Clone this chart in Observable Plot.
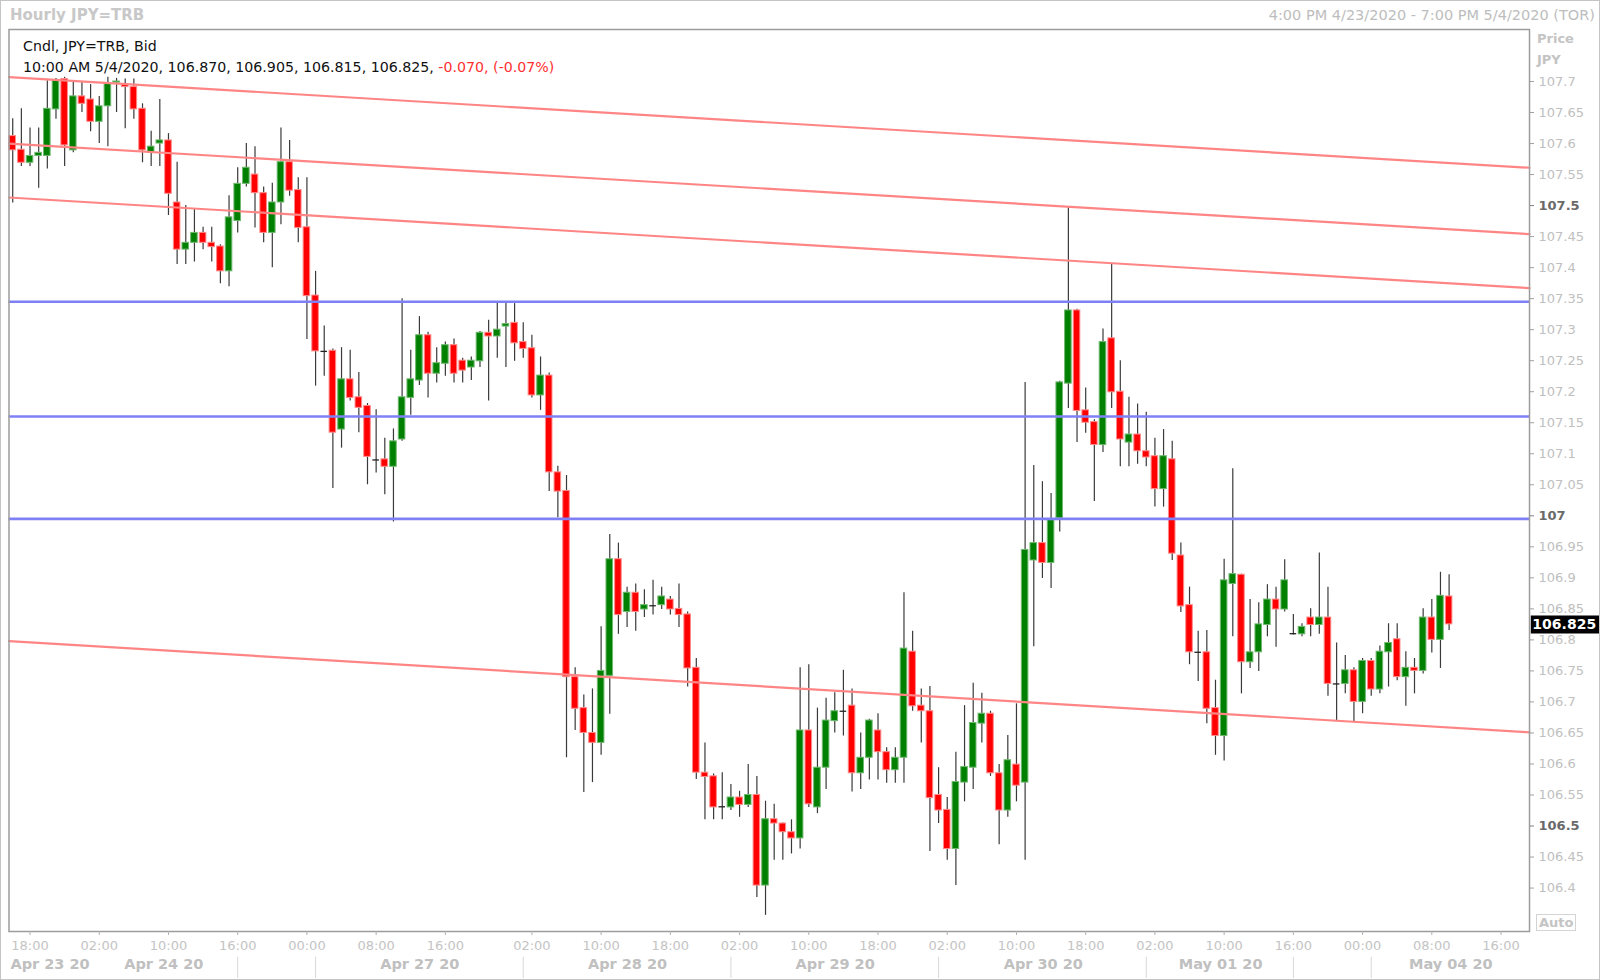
<!DOCTYPE html>
<html><head><meta charset="utf-8">
<script src="https://cdn.jsdelivr.net/npm/d3@7"></script>
<script src="https://cdn.jsdelivr.net/npm/@observablehq/plot@0.6"></script>
<style>
html,body{margin:0;padding:0;background:#fff;}
#wrap{position:relative;width:1600px;height:980px;overflow:hidden;font-family:"DejaVu Sans",Verdana,sans-serif;}
#chart{position:absolute;left:0;top:0;}
#border{position:absolute;left:0;top:0;width:1600px;height:980px;box-sizing:border-box;border:1px solid #c4c4c4;pointer-events:none;}
.t{position:absolute;white-space:nowrap;line-height:1;}
</style></head><body>
<div id="wrap">
  <div id="chart"></div>
  <div class="t" style="left:10px;top:8px;font-size:15px;font-weight:bold;color:#c8c8c8">Hourly JPY=TRB</div>
  <div class="t" style="right:5px;top:8px;font-size:14.5px;color:#bdbdbd">4:00 PM 4/23/2020 - 7:00 PM 5/4/2020 (TOR)</div>
  <div class="t" style="left:1537px;top:32px;font-size:13px;font-weight:bold;color:#c4c4c4">Price</div>
  <div class="t" style="left:1537px;top:53px;font-size:13px;font-weight:bold;color:#c4c4c4">JPY</div>
  <div class="t" id="leg1" style="left:23px;top:39px;font-size:14.2px;color:#111"></div>
  <div class="t" id="leg2" style="left:23px;top:60px;font-size:14.2px;color:#111"></div>
  <div class="t" style="left:1536px;top:914px;border:1px solid #d4d4d4;padding:1px 2px;font-size:13px;font-weight:bold;color:#c4c4c4">Auto</div>
  <div id="border"></div>
</div>
<script>
// ---- data: hourly candles (index = hour slot from 4:00 PM 4/23/2020) ----
const open = [
107.612,107.590,107.569,107.580,107.580,107.655,107.704,107.589,107.676,107.671,
107.635,107.660,107.698,107.696,107.691,107.656,107.585,107.600,107.605,107.505,
107.429,107.440,107.456,107.440,107.434,107.394,107.475,107.535,107.550,107.520,
107.456,107.505,107.570,107.525,107.465,107.355,107.265,107.266,107.139,107.220,
107.191,107.177,107.090,107.091,107.079,107.123,107.190,107.218,107.291,107.229,
107.245,107.275,107.250,107.239,107.249,107.295,107.289,107.305,107.311,107.280,
107.270,107.194,107.226,107.070,107.040,106.740,106.690,106.650,106.634,106.742,
106.930,106.845,106.876,106.849,106.855,106.856,106.865,106.850,106.841,106.755,
106.586,106.580,106.531,106.530,106.546,106.534,106.550,106.404,106.511,106.504,
106.490,106.480,106.654,106.530,106.594,106.669,106.685,106.694,106.585,106.610,
106.654,106.619,106.590,106.610,106.781,106.694,106.685,106.550,106.526,106.463,
106.570,106.594,106.665,106.681,106.585,106.525,106.599,106.570,106.928,106.956,
106.924,106.996,107.213,107.331,107.170,107.151,107.114,107.286,107.200,107.118,
107.131,107.104,107.096,107.043,107.091,106.936,106.856,106.780,106.780,106.690,
106.645,106.890,106.905,106.764,106.780,106.824,106.865,106.849,106.810,106.809,
106.836,106.824,106.836,106.729,106.729,106.751,106.700,106.766,106.720,106.780,
106.801,106.740,106.755,106.750,106.836,106.800,106.870];
const high = [
107.640,107.656,107.625,107.625,107.701,107.705,107.707,107.699,107.699,107.695,
107.676,107.707,107.705,107.704,107.704,107.664,107.620,107.671,107.616,107.570,
107.500,107.494,107.465,107.465,107.437,107.516,107.561,107.600,107.595,107.530,
107.536,107.625,107.605,107.545,107.545,107.394,107.306,107.269,107.271,107.267,
107.231,107.181,107.171,107.125,107.140,107.350,107.267,107.321,107.296,107.271,
107.280,107.285,107.254,107.256,107.297,107.315,107.342,107.342,107.342,107.311,
107.291,107.256,107.230,107.080,107.065,106.755,106.711,106.721,106.821,106.970,
106.956,106.885,106.890,106.881,106.896,106.885,106.870,106.890,106.845,106.770,
106.634,106.584,106.586,106.567,106.556,106.599,106.580,106.540,106.535,106.505,
106.510,106.755,106.760,106.690,106.706,106.715,106.751,106.721,106.650,106.672,
106.681,106.626,106.626,106.876,106.814,106.721,106.725,106.594,106.546,106.619,
106.694,106.730,106.714,106.685,106.599,106.646,106.697,107.215,107.081,107.055,
107.036,107.217,107.497,107.333,107.206,107.155,107.301,107.405,107.250,107.191,
107.180,107.167,107.125,107.139,107.120,106.956,106.885,106.814,106.815,106.735,
106.930,107.076,106.906,106.865,106.860,106.889,106.885,106.929,106.841,106.826,
106.850,106.940,106.885,106.795,106.775,106.755,106.770,106.770,106.790,106.826,
106.826,106.781,106.770,106.850,106.865,106.909,106.905];
const low = [
107.504,107.563,107.563,107.528,107.559,107.639,107.563,107.585,107.650,107.619,
107.600,107.595,107.650,107.624,107.639,107.569,107.563,107.563,107.484,107.405,
107.405,107.409,107.429,107.409,107.374,107.369,107.456,107.530,107.464,107.440,
107.400,107.469,107.515,107.440,107.284,107.209,107.225,107.044,107.109,107.185,
107.134,107.050,107.069,107.034,106.990,107.120,107.162,107.210,107.190,107.214,
107.225,107.214,107.214,107.218,107.239,107.185,107.254,107.239,107.249,107.254,
107.190,107.170,107.039,106.997,106.610,106.654,106.554,106.570,106.614,106.680,
106.809,106.820,106.814,106.836,106.840,106.849,106.840,106.820,106.724,106.575,
106.510,106.510,106.510,106.525,106.514,106.530,106.385,106.356,106.445,106.445,
106.455,106.463,106.530,106.520,106.559,106.650,106.645,106.555,106.559,106.574,
106.574,106.569,106.569,106.569,106.685,106.634,106.459,106.504,106.445,106.404,
106.539,106.559,106.634,106.580,106.470,106.514,106.539,106.445,106.789,106.899,
106.883,106.974,107.173,107.118,107.133,107.023,107.102,107.173,107.079,107.079,
107.083,107.079,107.014,107.014,106.928,106.844,106.760,106.733,106.665,106.614,
106.605,106.805,106.713,106.754,106.749,106.805,106.788,106.845,106.808,106.805,
106.805,106.809,106.709,106.670,106.713,106.668,106.681,106.709,106.713,106.724,
106.734,106.693,106.713,106.745,106.779,106.754,106.815];
const close = [
107.589,107.569,107.580,107.585,107.656,107.701,107.597,107.676,107.664,107.635,
107.660,107.696,107.700,107.691,107.655,107.589,107.595,107.605,107.519,107.429,
107.440,107.456,107.440,107.433,107.394,107.481,107.535,107.561,107.520,107.456,
107.505,107.570,107.524,107.464,107.354,107.265,107.265,107.134,107.220,107.190,
107.174,107.095,107.090,107.079,107.120,107.191,107.220,107.291,107.229,107.246,
107.275,107.229,107.234,107.250,107.295,107.289,107.300,107.309,107.278,107.269,
107.194,107.226,107.070,107.039,106.740,106.689,106.650,106.634,106.750,106.930,
106.840,106.876,106.845,106.856,106.855,106.870,106.849,106.840,106.754,106.586,
106.579,106.530,106.531,106.546,106.534,106.550,106.404,106.511,106.504,106.490,
106.480,106.654,106.535,106.594,106.670,106.685,106.685,106.585,106.610,106.670,
106.619,106.590,106.610,106.786,106.693,106.685,106.545,106.525,106.463,106.571,
106.595,106.666,106.681,106.585,106.525,106.606,106.565,106.945,106.956,106.924,
106.993,107.215,107.331,107.169,107.150,107.114,107.280,107.199,107.123,107.131,
107.104,107.094,107.043,107.096,106.939,106.854,106.780,106.780,106.689,106.645,
106.896,106.906,106.764,106.780,106.825,106.865,106.849,106.896,106.810,106.821,
106.824,106.836,106.729,106.729,106.751,106.700,106.766,106.720,106.781,106.795,
106.740,106.755,106.750,106.836,106.800,106.871,106.825];

// horizontal support / resistance levels
const levels = [107.345, 107.16, 106.995];
// parallel channel lines: value at left edge and right edge of the chart
const channelStart = [107.707, 107.600, 107.513, 106.798];
const channelEnd   = [107.561, 107.454, 107.367, 106.651];

// axis ticks
const timeTickIdx = [2,10,18,26,34,42,50,60,68,76,84,92,100,108,116,124,132,140,148,156,164,172];
const timeTickLabels = ["18:00","02:00","10:00","16:00","00:00","08:00","16:00","02:00","10:00","18:00","02:00","10:00","18:00","02:00","10:00","18:00","02:00","10:00","16:00","00:00","08:00","16:00"];
const dateTickIdx = [4.31,17.46,47.05,71.05,95.05,119.1,139.6,166.2];
const dateTickLabels = ["Apr 23 20","Apr 24 20","Apr 27 20","Apr 28 20","Apr 29 20","Apr 30 20","May 01 20","May 04 20"];
const daySeparatorIdx = [26,35,59,83,107,131,148,157];
const yTicks = [106.4,106.45,106.5,106.55,106.6,106.65,106.7,106.75,106.8,106.85,106.9,106.95,107,107.05,107.1,107.15,107.2,107.25,107.3,107.35,107.4,107.45,107.5,107.55,107.6,107.65,107.7];
const yBoldTicks = [106.5, 107, 107.5];

const legendTitle = "Cndl, JPY=TRB, Bid";
const lastTime = "10:00 AM 5/4/2020";
const lastChange = "-0.070, (-0.07%)";

// ---- build ----
const X0 = -0.43, X1 = 175.29;
const candles = open.map((o, i) => ({i, open: o, high: high[i], low: low[i], close: close[i]}));
const bodies = candles.filter(d => d.open !== d.close);
const dojis = candles.filter(d => d.open === d.close);
const channel = [];
channelStart.forEach((v, k) => { channel.push({k, x: X0, y: v}); channel.push({k, x: X1, y: channelEnd[k]}); });
const fmtY = d => String(+d.toFixed(2));
const timeMap = new Map(timeTickIdx.map((d, i) => [d, timeTickLabels[i]]));
const dateMap = new Map(dateTickIdx.map((d, i) => [d, dateTickLabels[i]]));
const lastClose = close[close.length - 1];
const hw = 0.38;

const chart = Plot.plot({
  width: 1600, height: 980,
  marginTop: 29, marginBottom: 49, marginLeft: 8.5, marginRight: 71,
  x: {domain: [X0, X1]},
  y: {domain: [106.33, 107.7838]},
  style: {fontFamily: "DejaVu Sans, Verdana, sans-serif", fontSize: "13px", background: "transparent", overflow: "visible"},
  marks: [
    Plot.ruleX(candles, {x: "i", y1: "low", y2: "high", stroke: "#3a3a3a", strokeWidth: 1.2}),
    Plot.rect(bodies, {x1: d => d.i - hw, x2: d => d.i + hw, y1: "open", y2: "close",
      fill: d => d.close > d.open ? "#008000" : "#ff0000",
      stroke: d => d.close > d.open ? "#6fb86f" : "#ff8a8a", strokeWidth: 1}),
    Plot.ruleY(dojis, {y: "open", x1: d => d.i - hw, x2: d => d.i + hw, stroke: "#222", strokeWidth: 1.3}),
    Plot.ruleY(levels, {stroke: "#8080f6", strokeWidth: 2.6}),
    Plot.line(channel, {x: "x", y: "y", z: "k", stroke: "#ff8585", strokeWidth: 2.2}),
    Plot.frame({stroke: "#9c9c9c", strokeWidth: 1.5}),
    Plot.axisY(yTicks.filter(t => !yBoldTicks.includes(t)), {anchor: "right", tickSize: 4, tickPadding: 5, tickFormat: fmtY, fill: "#c0c0c0", stroke: "#a0a0a0", fontSize: 13, label: null}),
    Plot.axisY(yBoldTicks, {anchor: "right", tickSize: 4, tickPadding: 5, tickFormat: fmtY, fill: "#6a6a6a", stroke: "#808080", fontSize: 13, fontWeight: "bold", label: null}),
    Plot.ruleY([lastClose], {x1: 175.5, x2: 183.4, stroke: "#000", strokeWidth: 18}),
    Plot.text([lastClose], {x: 175.62, y: d => d, text: d => d.toFixed(3), textAnchor: "start", fill: "#fff", fontWeight: "bold", fontSize: 14}),
    Plot.axisX(timeTickIdx, {anchor: "bottom", tickSize: 4, tickPadding: 5, tickFormat: d => timeMap.get(d), fill: "#c4c4c4", stroke: "#b0b0b0", fontSize: 13, label: null}),
    Plot.axisX(dateTickIdx, {anchor: "bottom", tickSize: 0, tickPadding: 27, tickFormat: d => dateMap.get(d), fill: "#c0c0c0", fontSize: 14.5, fontWeight: "bold", label: null}),
    Plot.ruleX(daySeparatorIdx, {y1: 106.2885, y2: 106.2542, stroke: "#d8d8d8", strokeWidth: 1})
  ]
});
document.getElementById("chart").appendChild(chart);

document.getElementById("leg1").textContent = legendTitle;
const n = close.length - 1;
const leg2 = document.getElementById("leg2");
leg2.appendChild(document.createTextNode(`${lastTime}, ${open[n].toFixed(3)}, ${high[n].toFixed(3)}, ${low[n].toFixed(3)}, ${close[n].toFixed(3)}, `));
const sp = document.createElement("span");
sp.style.color = "#ff3030";
sp.textContent = lastChange;
leg2.appendChild(sp);
</script>
</body></html>
